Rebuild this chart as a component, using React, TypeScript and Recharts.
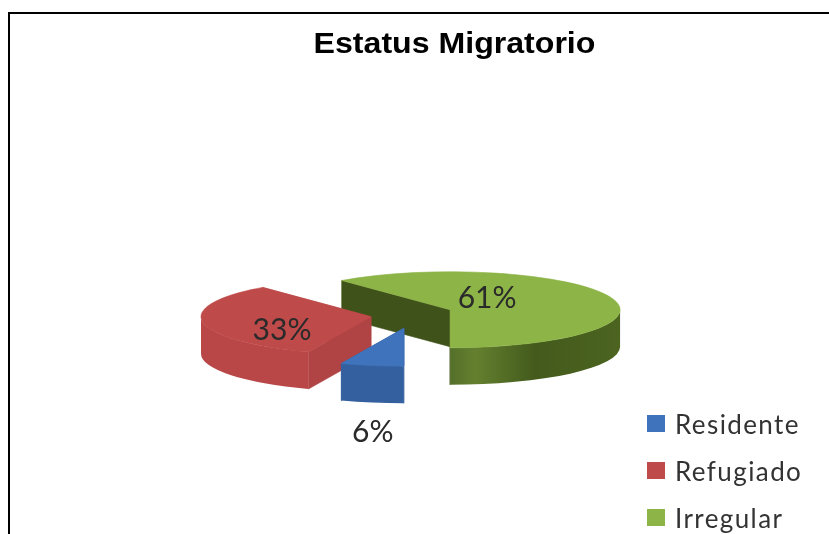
// Estatus Migratorio: exploded pseudo-3D pie drawn with a custom Pie shape
import { PieChart, Pie, Cell, Legend } from "recharts";

const categories = ["Residente", "Refugiado", "Irregular"];
const values = [6, 33, 61];
const topColors = ["#3f73bb", "#bf4a4a", "#8db446"];
const wallColors = ["#35609f", "#b94747", "#4c6420"];
const cutColors = ["#35609f", "#b04343", "#3f5219"];

// drawn back to front, so the big slice comes first and the angles run the other way
const rows = categories
  .map((name, i) => ({ name, value: values[i], top: topColors[i], wall: wallColors[i], cut: cutColors[i] }))
  .reverse();

const TILT = 38 / 170;
const DEPTH = 37;
const EXPLODE_X = 41;
const EXPLODE_Y = 14;
const FONT = "Lato, 'Open Sans', sans-serif";
const LABEL_OFFSET: Record<string, [number, number]> = {
  Residente: [-31, 102],
  Refugiado: [-89, 11],
  Irregular: [37, -14],
};

const rad = (deg: number) => (deg * Math.PI) / 180;

function sliceOrigin(cx: number, cy: number, midAngle: number) {
  return {
    ox: cx + EXPLODE_X * Math.cos(rad(midAngle)),
    oy: cy - EXPLODE_Y * Math.sin(rad(midAngle)),
  };
}

const Slice3D = (props: any) => {
  const { cx, cy, outerRadius: R, startAngle, endAngle, payload } = props;
  const mid = (startAngle + endAngle) / 2;
  const { ox, oy } = sliceOrigin(cx, cy, mid);
  const ry = R * TILT;
  const pt = (a: number, dy = 0) => [ox + R * Math.cos(rad(a)), oy - ry * Math.sin(rad(a)) + dy];
  const large = endAngle - startAngle > 180 ? 1 : 0;
  const [sx, sy] = pt(startAngle);
  const [ex, ey] = pt(endAngle);
  const top = `M${ox},${oy} L${sx},${sy} A${R},${ry} 0 ${large} 0 ${ex},${ey} Z`;

  const cut = (x: number, y: number) =>
    `M${ox},${oy} L${x},${y} L${x},${y + DEPTH} L${ox},${oy + DEPTH} Z`;

  // only the front half of the rim shows a wall
  const walls: string[] = [];
  for (const [lo, hi] of [[-180, 0], [180, 360]]) {
    const a1 = Math.max(startAngle, lo);
    const a2 = Math.min(endAngle, hi);
    if (a2 > a1) {
      const [x1, y1] = pt(a1);
      const [x2, y2] = pt(a2);
      walls.push(
        `M${x1},${y1} A${R},${ry} 0 0 0 ${x2},${y2} L${x2},${y2 + DEPTH} A${R},${ry} 0 0 1 ${x1},${y1 + DEPTH} Z`
      );
    }
  }
  const isGreen = payload.name === "Irregular";

  return (
    <g>
      {isGreen && (
        <defs>
          <linearGradient id="greenWall" x1="0" y1="0" x2="1" y2="0">
            <stop offset="0" stopColor="#55702a" />
            <stop offset="0.15" stopColor="#64802f" />
            <stop offset="0.5" stopColor="#435a1c" />
            <stop offset="1" stopColor="#4c6420" />
          </linearGradient>
        </defs>
      )}
      <path d={cut(sx, sy)} fill={payload.cut} stroke={payload.cut} strokeWidth={0.6} />
      <path d={cut(ex, ey)} fill={payload.cut} stroke={payload.cut} strokeWidth={0.6} />
      {walls.map((d, i) => (
        <path key={i} d={d} fill={isGreen ? "url(#greenWall)" : payload.wall} />
      ))}
      <path d={top} fill={payload.top} stroke={payload.top} strokeWidth={0.6} />
    </g>
  );
};

const renderLabel = (props: any) => {
  const { cx, cy, midAngle, name, value } = props;
  const { ox, oy } = sliceOrigin(cx, cy, midAngle);
  const [dx, dy] = LABEL_OFFSET[name];
  return (
    <text
      x={ox + dx}
      y={oy + dy}
      textAnchor="middle"
      dominantBaseline="central"
      fontFamily={FONT}
      fontSize={30}
      fill="#2a2a2a"
    >
      {value}%
    </text>
  );
};

const renderLegend = (props: any) => {
  const items = [...(props.payload ?? [])].reverse();
  return (
    <div>
      {items.map((it: any) => (
        <div key={it.value} style={{ display: "flex", alignItems: "center", height: 47 }}>
          <span style={{ width: 18, height: 17, background: it.payload.top, marginRight: 10, display: "inline-block" }} />
          <span style={{ fontFamily: FONT, fontSize: 26, color: "#333", letterSpacing: 1.4 }}>{it.value}</span>
        </div>
      ))}
    </div>
  );
};

export default function App() {
  return (
    <div style={{ position: "absolute", left: 0, top: 0, width: 829, height: 534, overflow: "hidden", background: "#fff", filter: "blur(0.7px)" }}>
      <div style={{ position: "absolute", left: 8, top: 12, right: -4, bottom: -4, borderTop: "2px solid #000", borderLeft: "2px solid #000" }} />
      <div
        style={{
          position: "absolute",
          left: 313,
          top: 26,
          width: 283,
          textAlign: "center",
          fontFamily: "'Liberation Sans', Arial, sans-serif",
          fontWeight: 700,
          fontSize: 30,
          whiteSpace: "nowrap",
          color: "#000",
          transform: "scaleX(1.07)",
        }}
      >
        Estatus Migratorio
      </div>
      <PieChart width={829} height={534} style={{ position: "absolute", left: 0, top: 0 }}>
        <Pie
          data={rows}
          dataKey="value"
          nameKey="name"
          cx={406.5}
          cy={309.5}
          outerRadius={170}
          startAngle={-90}
          endAngle={270}
          stroke="none"
          shape={Slice3D}
          label={renderLabel}
          labelLine={false}
          isAnimationActive={false}
        >
          {rows.map((r) => (
            <Cell key={r.name} fill={r.top} />
          ))}
        </Pie>
        <Legend
          layout="vertical"
          content={renderLegend}
          wrapperStyle={{ position: "absolute", left: 647, top: 400, width: 180 }}
        />
      </PieChart>
    </div>
  );
}
